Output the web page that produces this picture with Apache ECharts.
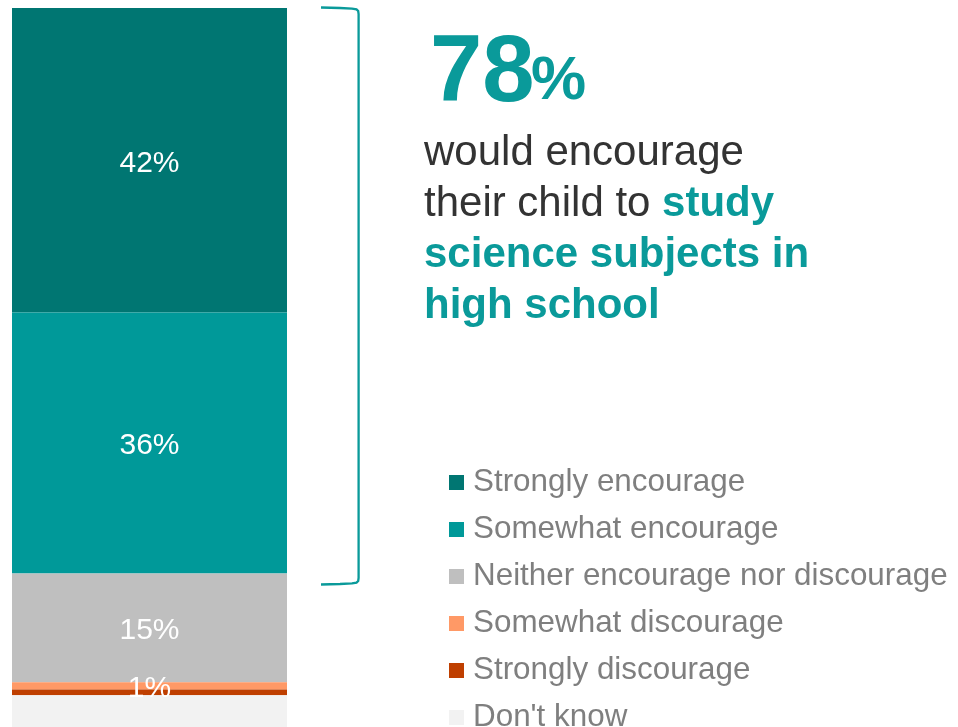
<!DOCTYPE html>
<html>
<head>
<meta charset="utf-8">
<script src="https://cdn.jsdelivr.net/npm/echarts@6/dist/echarts.min.js"></script>
<style>
  html, body { margin: 0; padding: 0; background: #ffffff; }
  #chart { width: 958px; height: 727px; }
</style>
</head>
<body>
<div id="chart"></div>
<script>
// Survey answers, in stacking order from the top of the bar
const categories = ['All parents'];
const responses = [
  'Strongly encourage',
  'Somewhat encourage',
  'Neither encourage nor discourage',
  'Somewhat discourage',
  'Strongly discourage',
  "Don't know"
];
const shares = [42, 36, 15, 1, 0.8, 5.2];
const showLabel = [true, true, true, true, false, false];
const colors = ['#007672', '#009999', '#BFBFBF', '#FF9966', '#BF3F00', '#F2F2F2'];

const FONT = '"Liberation Sans", Arial, Helvetica, sans-serif';
const TEAL = '#0a9a9a';

const chart = echarts.init(document.getElementById('chart'), null, { renderer: 'canvas' });

const series = responses.map((name, i) => ({
  name: name,
  type: 'bar',
  stack: 'total',
  barWidth: '100%',
  data: categories.map(() => shares[i]),
  itemStyle: { color: colors[i] },
  label: {
    show: showLabel[i],
    position: 'inside',
    offset: [0, 3],
    formatter: '{c}%',
    color: '#ffffff',
    fontSize: 30,
    fontFamily: FONT
  },
  emphasis: { disabled: true },
  silent: true
}));

chart.setOption({
  animation: false,
  backgroundColor: '#ffffff',
  color: colors,
  grid: { left: 12, width: 275, top: 8, height: 725, outerBoundsMode: 'none', containLabel: false },
  xAxis: { type: 'category', data: categories, show: false },
  yAxis: { type: 'value', min: 0, max: 100, inverse: true, show: false },
  legend: {
    data: responses,
    orient: 'vertical',
    left: 449,
    top: 467,
    height: 320,
    padding: 0,
    itemWidth: 15,
    itemHeight: 15,
    itemGap: 16,
    icon: 'rect',
    selectedMode: false,
    textStyle: {
      color: '#7f7f7f',
      fontSize: 31.4,
      fontFamily: FONT,
      padding: [0, 0, 0, 4]
    }
  },
  series: series,
  graphic: [
    {
      // bracket spanning the two "encourage" answers
      type: 'polyline',
      shape: {
        points: [[321, 7.5], [340, 8], [352, 8.6], [356.5, 9.4], [358.2, 11], [358.6, 14],
                 [358.6, 578], [358.2, 581], [356.5, 582.6], [352, 583.4], [340, 584], [321, 584.5]]
      },
      style: { fill: null, stroke: TEAL, lineWidth: 2.3 },
      silent: true
    },
    {
      type: 'text',
      left: 430,
      top: 28,
      style: {
        text: '78',
        font: 'bold 94px ' + FONT,
        fill: TEAL
      }
    },
    {
      type: 'text',
      left: 531,
      top: 51,
      style: {
        text: '%',
        font: 'bold 62px ' + FONT,
        fill: TEAL
      }
    },
    {
      type: 'text',
      left: 424,
      top: 132,
      style: {
        text: '{n|would encourage}\n{n|their child to }{b|study}\n{b|science subjects in}\n{b|high school}',
        rich: {
          n: { fontSize: 42, fontFamily: FONT, fill: '#333333', lineHeight: 51 },
          b: { fontSize: 42, fontFamily: FONT, fontWeight: 'bold', fill: TEAL, lineHeight: 51 }
        }
      }
    }
  ]
});
</script>
</body>
</html>
